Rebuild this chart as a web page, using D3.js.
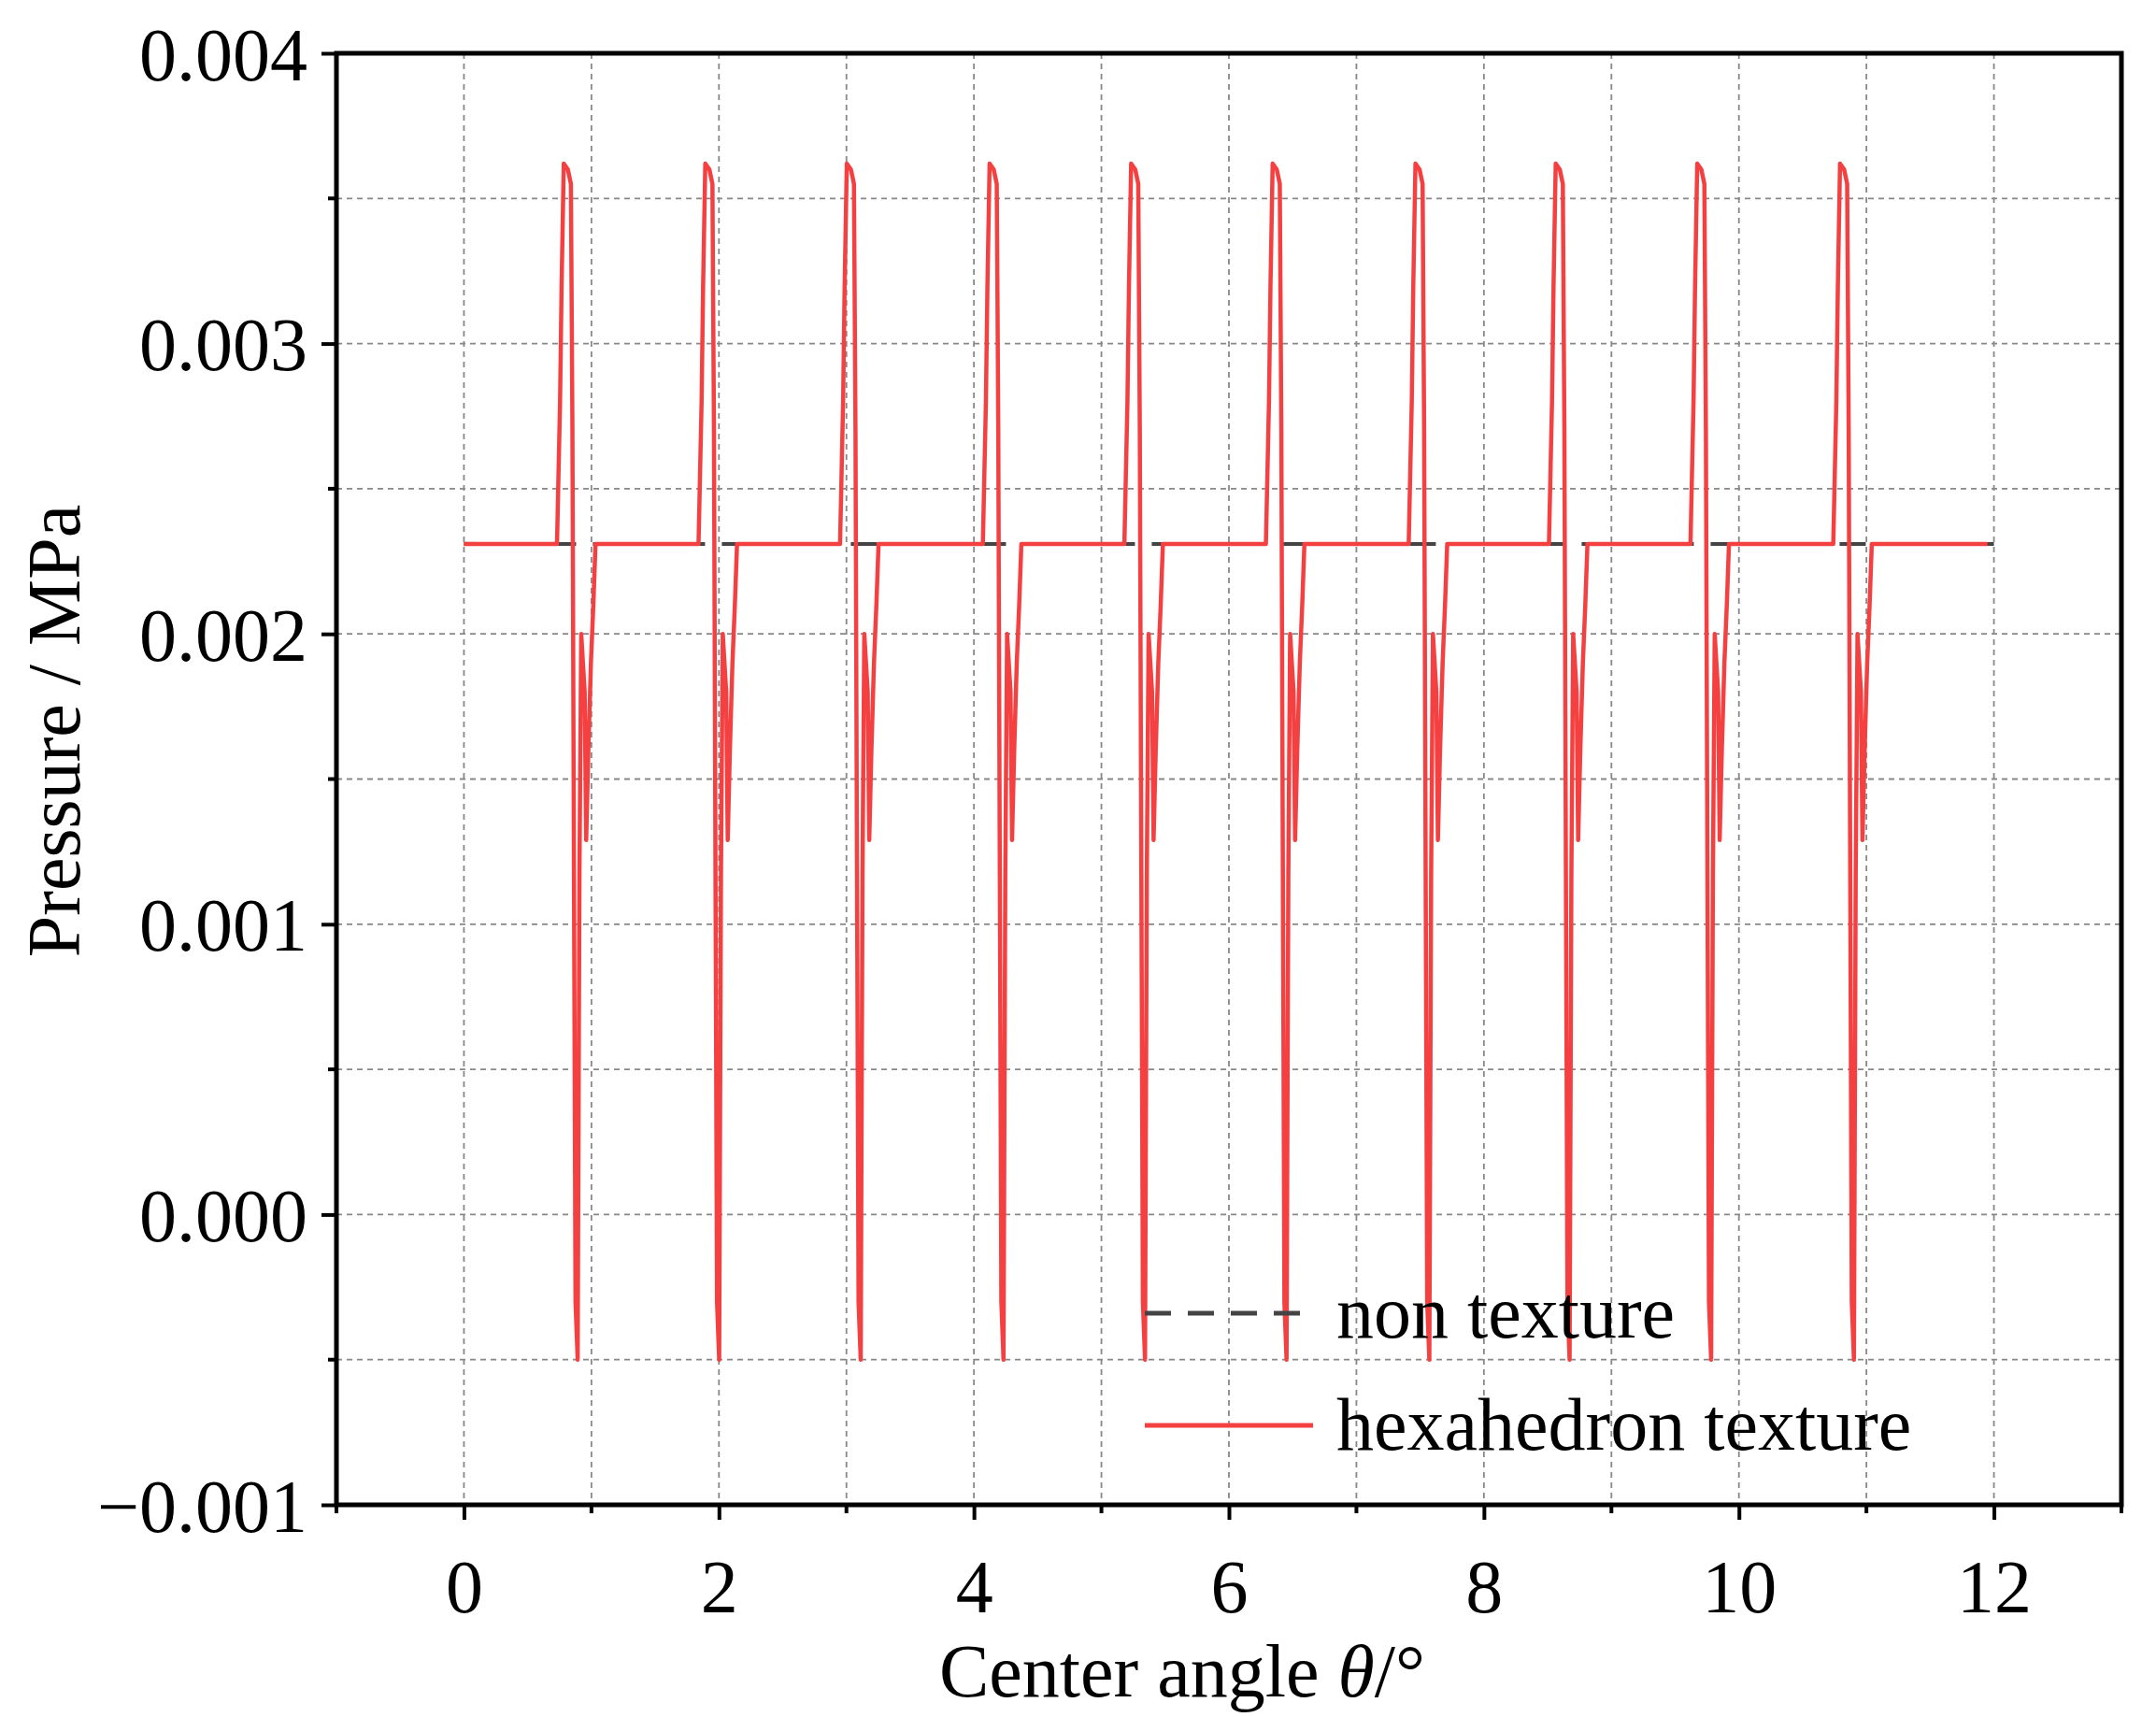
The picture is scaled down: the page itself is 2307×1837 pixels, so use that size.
<!DOCTYPE html>
<html><head><meta charset="utf-8">
<script src="https://cdn.jsdelivr.net/npm/d3@7"></script>
<style>body{margin:0;background:#fff}</style>
</head><body>
<svg id="c" width="2307" height="1837"></svg>
<script>
// Data
const xTickValues = [0, 2, 4, 6, 8, 10, 12];
const yTickLabels = ["−0.001", "0.000", "0.001", "0.002", "0.003", "0.004"];
const yTickValues = [-0.001, 0, 0.001, 0.002, 0.003, 0.004];
const baseline = 0.00231;
const nonTextureX = [0, 12];
const pulseStarts = [0.73, 1.84, 2.95, 4.07, 5.18, 6.29, 7.41, 8.51, 9.62, 10.74];
const pulseOffsets = [0, 0.024, 0.036, 0.053, 0.085, 0.109, 0.121, 0.133, 0.145, 0.162, 0.176, 0.19, 0.217, 0.229, 0.246, 0.266, 0.285, 0.302];
const pulseValues = [0.00231, 0.0028, 0.0032, 0.00362, 0.0036, 0.00355, 0.0027, 0.00117, -0.0003, -0.0005, 0.00117, 0.0020, 0.0018, 0.00129, 0.0016, 0.0019, 0.0021, 0.00231];
const seriesNames = ["non texture", "hexahedron texture"];

// Build hexahedron series
const hexData = [[0, baseline]];
pulseStarts.forEach(s => pulseOffsets.forEach((o, i) => hexData.push([s + o, pulseValues[i]])));
hexData.push([11.95, baseline]);
const nonData = nonTextureX.map(x => [x, baseline]);

const svg = d3.select("#c");
const L = 360, R = 2270, T = 57, B = 1610;
const x = d3.scaleLinear().domain([-1, 13]).range([L, R]);
const y = d3.scaleLinear().domain([-0.001, 0.004]).range([B, T]);
const font = "'Liberation Serif','DejaVu Serif',serif";
const fs = 80;

// grid
const g = svg.append("g");
d3.range(0, 13, 1).forEach(v => g.append("line").attr("x1", x(v)).attr("x2", x(v)).attr("y1", T).attr("y2", B)
  .attr("stroke", "#888").attr("stroke-width", 1.8).attr("stroke-dasharray", "6,5"));
d3.range(-0.0005, 0.004, 0.0005).forEach(v => g.append("line").attr("x1", L).attr("x2", R).attr("y1", y(v)).attr("y2", y(v))
  .attr("stroke", "#888").attr("stroke-width", 1.8).attr("stroke-dasharray", "6,5"));

// lines
const line = d3.line().x(d => x(d[0])).y(d => y(d[1]));
svg.append("path").datum(nonData).attr("d", line).attr("fill", "none").attr("stroke", "#444")
  .attr("stroke-width", 4).attr("stroke-dasharray", "28,18");
svg.append("path").datum(hexData).attr("d", line).attr("fill", "none").attr("stroke", "#f44040")
  .attr("stroke-width", 4.5).attr("stroke-linejoin", "round");

// axes
const xAxis = d3.axisBottom(x).tickValues(xTickValues).tickSize(16).tickFormat(d3.format("d"));
const xa = svg.append("g").attr("transform", `translate(0,${B})`).call(xAxis);
const yAxis = d3.axisLeft(y).tickValues(yTickValues).tickSize(16).tickFormat((d, i) => yTickLabels[i]);
const ya = svg.append("g").attr("transform", `translate(${L},0)`).call(yAxis);
[xa, ya].forEach(a => {
  a.select(".domain").remove();
  a.selectAll(".tick line").attr("stroke", "#000").attr("stroke-width", 4);
  a.selectAll("text").attr("font-family", font).attr("font-size", fs).attr("fill", "#000");
});
xa.selectAll("text").attr("dy", "1.2em");
ya.selectAll("text").attr("dx", "-0.15em").attr("dy", "0.35em");
// minor ticks
d3.range(-1, 14, 2).forEach(v => svg.append("line").attr("x1", x(v)).attr("x2", x(v)).attr("y1", B).attr("y2", B + 9).attr("stroke", "#000").attr("stroke-width", 4));
d3.range(-0.0005, 0.004, 0.001).forEach(v => svg.append("line").attr("x1", L).attr("x2", L - 9).attr("y1", y(v)).attr("y2", y(v)).attr("stroke", "#000").attr("stroke-width", 4));
// frame
svg.append("rect").attr("x", L).attr("y", T).attr("width", R - L).attr("height", B - T)
  .attr("fill", "none").attr("stroke", "#000").attr("stroke-width", 5);

// axis titles
svg.append("text").attr("x", (L + R) / 2 - 50).attr("y", 1815).attr("text-anchor", "middle")
  .attr("font-family", font).attr("font-size", fs)
  .html("Center angle <tspan font-style='italic'>θ</tspan>/°");
svg.append("text").attr("transform", "translate(85,782) rotate(-90)").attr("text-anchor", "middle")
  .attr("font-family", font).attr("font-size", fs).text("Pressure / MPa");

// legend
const leg = [{n: seriesNames[0], y: 1405, c: "#444", dash: "28,18"}, {n: seriesNames[1], y: 1525, c: "#f44040", dash: null}];
leg.forEach(d => {
  svg.append("line").attr("x1", 1225).attr("x2", 1405).attr("y1", d.y).attr("y2", d.y)
    .attr("stroke", d.c).attr("stroke-width", 5).attr("stroke-dasharray", d.dash);
  svg.append("text").attr("x", 1430).attr("y", d.y + 26).attr("font-family", font).attr("font-size", fs).text(d.n);
});
</script>
</body></html>
